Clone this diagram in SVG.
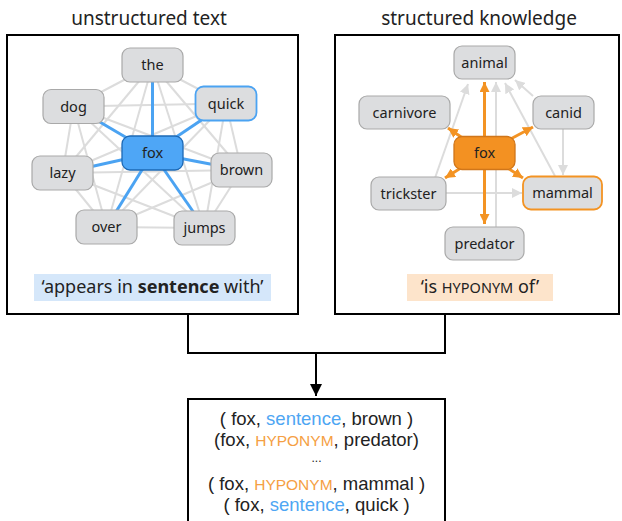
<svg xmlns="http://www.w3.org/2000/svg" width="622" height="521" viewBox="0 0 622 521">
<defs>
<marker id="ao" viewBox="0 0 10 10" refX="10" refY="5" markerWidth="10" markerHeight="10" markerUnits="userSpaceOnUse" orient="auto"><path d="M0,0 L10,5 L0,10 Z" fill="#f39323"/></marker>
<marker id="ag" viewBox="0 0 10 10" refX="10" refY="5" markerWidth="10" markerHeight="10" markerUnits="userSpaceOnUse" orient="auto"><path d="M0,0 L10,5 L0,10 Z" fill="#dcdcdc"/></marker>
<marker id="ak" viewBox="0 0 10 10" refX="10" refY="5" markerWidth="12" markerHeight="12" markerUnits="userSpaceOnUse" orient="auto"><path d="M0,0 L10,5 L0,10 Z" fill="#000"/></marker>
</defs>
<style>
text{font-family:"Noto Sans","Open Sans","DejaVu Sans",sans-serif;fill:#222}
.title{font-size:19px;text-anchor:middle}
.nl{font-size:14.5px;text-anchor:middle}
.n{fill:#dcdddf;stroke:#a9a9a9;stroke-width:1.2}
.g{stroke:#dcdcdc;stroke-width:2;fill:none}
.b{stroke:#4ba3f2;stroke-width:3;fill:none}
.o{stroke:#f39323;stroke-width:3;fill:none}
.frame{fill:#fff;stroke:#000;stroke-width:2}
.lbl{font-size:18px;text-anchor:middle}
.out{font-family:"Liberation Sans",Arial,sans-serif;font-size:18.5px;text-anchor:middle}
.dots{font-family:"Liberation Sans",Arial,sans-serif;font-size:12px;text-anchor:middle}
.blue{fill:#4ea6f3}
.org{fill:#f5a043}
</style>

<rect x="0" y="0" width="622" height="521" fill="#fff"/>

<text class="title" x="149" y="25">unstructured text</text>
<text class="title" x="479" y="25">structured knowledge</text>

<rect class="frame" x="7" y="35" width="291" height="279"/>
<rect class="frame" x="335" y="35" width="284" height="279"/>

<g id="connectors">
  <g class="g">
    <line x1="152.5" y1="65" x2="226" y2="103.5"/>
    <line x1="152.5" y1="65" x2="73.5" y2="106.5"/>
    <line x1="152.5" y1="65" x2="62.5" y2="173"/>
    <line x1="152.5" y1="65" x2="241.5" y2="170"/>
    <line x1="152.5" y1="65" x2="106.5" y2="227"/>
    <line x1="152.5" y1="65" x2="204.5" y2="228"/>
    <line x1="226" y1="103.5" x2="73.5" y2="106.5"/>
    <line x1="226" y1="103.5" x2="62.5" y2="173"/>
    <line x1="226" y1="103.5" x2="241.5" y2="170"/>
    <line x1="226" y1="103.5" x2="106.5" y2="227"/>
    <line x1="226" y1="103.5" x2="204.5" y2="228"/>
    <line x1="73.5" y1="106.5" x2="62.5" y2="173"/>
    <line x1="73.5" y1="106.5" x2="241.5" y2="170"/>
    <line x1="73.5" y1="106.5" x2="106.5" y2="227"/>
    <line x1="73.5" y1="106.5" x2="204.5" y2="228"/>
    <line x1="62.5" y1="173" x2="241.5" y2="170"/>
    <line x1="62.5" y1="173" x2="106.5" y2="227"/>
    <line x1="62.5" y1="173" x2="204.5" y2="228"/>
    <line x1="241.5" y1="170" x2="106.5" y2="227"/>
    <line x1="241.5" y1="170" x2="204.5" y2="228"/>
    <line x1="106.5" y1="227" x2="204.5" y2="228"/>
  </g>
  <g class="b">
    <line x1="152.5" y1="153" x2="152.5" y2="65"/>
    <line x1="152.5" y1="153" x2="226" y2="103.5"/>
    <line x1="152.5" y1="153" x2="73.5" y2="106.5"/>
    <line x1="152.5" y1="153" x2="62.5" y2="173"/>
    <line x1="152.5" y1="153" x2="241.5" y2="170"/>
    <line x1="152.5" y1="153" x2="106.5" y2="227"/>
    <line x1="152.5" y1="153" x2="204.5" y2="228"/>
  </g>
  <g class="g">
    <line x1="435" y1="178" x2="468" y2="84" marker-end="url(#ag)"/>
    <line x1="496" y1="227" x2="496" y2="82" marker-end="url(#ag)"/>
    <line x1="555" y1="176" x2="505" y2="83" marker-end="url(#ag)"/>
    <line x1="533" y1="96" x2="515" y2="80" marker-end="url(#ag)"/>
    <line x1="563" y1="129" x2="563" y2="175" marker-end="url(#ag)"/>
    <line x1="446" y1="193" x2="522" y2="193" marker-end="url(#ag)"/>
  </g>
  <g class="o">
    <line x1="484.5" y1="153" x2="484.5" y2="82" marker-end="url(#ao)"/>
    <line x1="484.5" y1="153" x2="448" y2="128" marker-end="url(#ao)"/>
    <line x1="484.5" y1="153" x2="533" y2="127" marker-end="url(#ao)"/>
    <line x1="484.5" y1="153" x2="445" y2="178" marker-end="url(#ao)"/>
    <line x1="484.5" y1="153" x2="523" y2="178" marker-end="url(#ao)"/>
    <line x1="484.5" y1="153" x2="484.5" y2="224" marker-end="url(#ao)"/>
  </g>
  <polyline points="188,314 188,353 445,353 445,314" fill="none" stroke="#000" stroke-width="2"/>
  <line x1="316" y1="353" x2="316" y2="396" stroke="#000" stroke-width="2" marker-end="url(#ak)"/>
</g>

<g id="n-the"><rect class="n" x="122" y="48" width="61" height="34" rx="8"/><text class="nl" x="152.5" y="70">the</text></g>
<g id="n-quick"><rect class="n" x="195.5" y="86.5" width="61" height="34" rx="8" style="stroke:#4ba3f2;stroke-width:1.8"/><text class="nl" x="226" y="108.5">quick</text></g>
<g id="n-dog"><rect class="n" x="43" y="89.5" width="61" height="34" rx="8"/><text class="nl" x="73.5" y="111.5">dog</text></g>
<g id="n-lazy"><rect class="n" x="32" y="156" width="61" height="34" rx="8"/><text class="nl" x="62.5" y="178">lazy</text></g>
<g id="n-brown"><rect class="n" x="211" y="153" width="61" height="34" rx="8"/><text class="nl" x="241.5" y="175">brown</text></g>
<g id="n-over"><rect class="n" x="76" y="210" width="61" height="34" rx="8"/><text class="nl" x="106.5" y="232">over</text></g>
<g id="n-jumps"><rect class="n" x="174" y="211" width="61" height="34" rx="8"/><text class="nl" x="204.5" y="233">jumps</text></g>
<g id="n-fox-l"><rect x="122" y="136" width="61" height="34" rx="8" fill="#4ea6f6" stroke="#1d69b5" stroke-width="1.3"/><text class="nl" x="152.5" y="158">fox</text></g>

<g id="label-left"><rect x="34" y="274" width="237" height="27" fill="#d5e7fa"/><text class="lbl" x="152.5" y="293">‘appears in <tspan font-weight="bold">sentence</tspan> with’</text></g>

<g id="n-animal"><rect class="n" x="454" y="46" width="61" height="33" rx="8"/><text class="nl" x="484.5" y="67.5">animal</text></g>
<g id="n-carnivore"><rect class="n" x="359" y="96" width="91" height="33" rx="8"/><text class="nl" x="404.5" y="117.5">carnivore</text></g>
<g id="n-canid"><rect class="n" x="533" y="96" width="61" height="33" rx="8"/><text class="nl" x="563.5" y="117.5">canid</text></g>
<g id="n-trickster"><rect class="n" x="371" y="177" width="75" height="33" rx="8"/><text class="nl" x="408.5" y="198.5">trickster</text></g>
<g id="n-mammal"><rect class="n" x="523" y="176.5" width="79" height="33" rx="8" style="stroke:#f39323;stroke-width:1.8"/><text class="nl" x="562.5" y="198">mammal</text></g>
<g id="n-predator"><rect class="n" x="445" y="227" width="79" height="33" rx="8"/><text class="nl" x="484.5" y="248.5">predator</text></g>
<g id="n-fox-r"><rect x="454" y="136.5" width="61" height="33" rx="8" fill="#f39122" stroke="#d0761a" stroke-width="1.3"/><text class="nl" x="484.5" y="158">fox</text></g>

<g id="label-right"><rect x="407" y="274" width="146" height="27" fill="#fde4cb"/><text class="lbl" x="480" y="293">‘is <tspan font-size="14.5px">HYPONYM</tspan> of’</text></g>

<g id="output">
  <path d="M188,522 L188,399 L445,399 L445,522" fill="#fff" stroke="#000" stroke-width="2"/>
  <text class="out" x="316.5" y="425">( fox, <tspan class="blue">sentence</tspan>, brown )</text>
  <text class="out" x="316.5" y="446">(fox, <tspan class="org" font-size="15.5px">HYPONYM</tspan>, predator)</text>
  <text class="dots" x="316.5" y="462">...</text>
  <text class="out" x="316.5" y="490">( fox, <tspan class="org" font-size="15.5px">HYPONYM</tspan>, mammal )</text>
  <text class="out" x="316.5" y="511">( fox, <tspan class="blue">sentence</tspan>, quick )</text>
</g>
</svg>
